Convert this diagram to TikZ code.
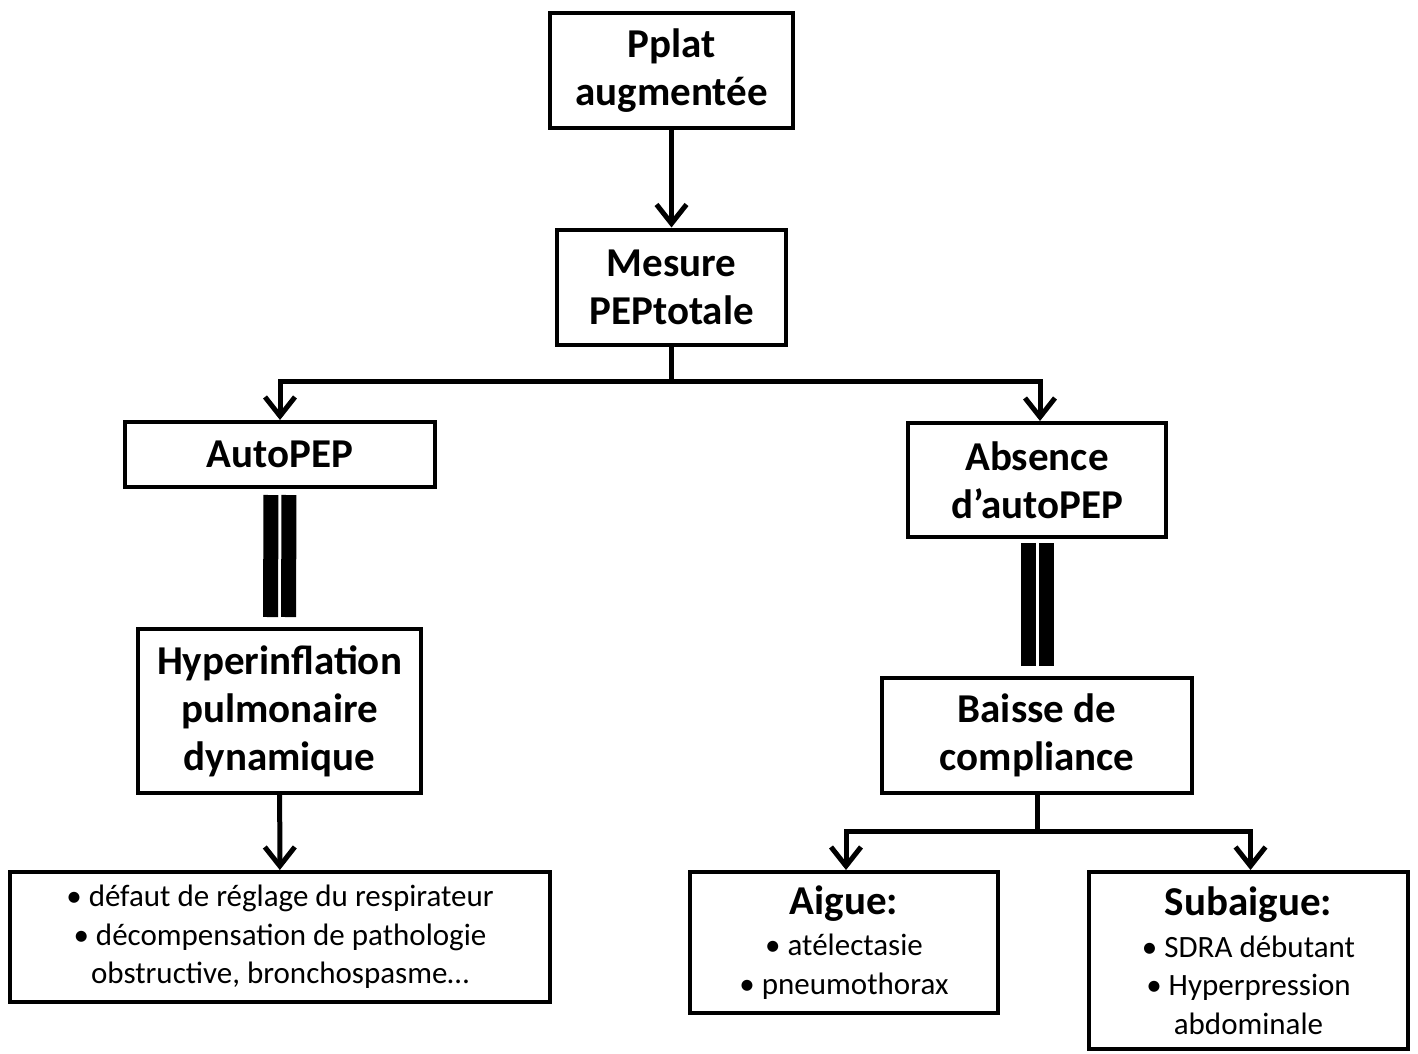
\documentclass[tikz,border=0pt]{standalone}
\usepackage{fontspec}
\setmainfont{Carlito}
\usetikzlibrary{arrows.meta}
\newcommand{\hdfont}{\fontsize{41}{48}\selectfont\bfseries}
\newcommand{\txfont}{\fontsize{31}{38.5}\selectfont}
\begin{document}
\begin{tikzpicture}[x=1pt,y=-1pt,
    box/.style={draw,line width=4pt,inner sep=0pt,align=center},
    hd/.style={box,font=\hdfont},
    tx/.style={box,font=\txfont},
    arr/.style={line width=5pt,-{Straight Barb[length=19pt,width=30pt]}},
    bar/.style={line width=15pt}]
  \useasboundingbox (0,0) rectangle (1418,1053);
  % top of the chart
  \node[hd,minimum width=243,minimum height=115] (plat) at (671.5,70.5) {Pplat\\augmentée};
  \node[hd,minimum width=229,minimum height=115] (mesure) at (671.5,287) {Mesure\\PEPtotale};
  \draw[arr] (plat) -- (mesure);
  % the two branches
  \node[hd,minimum width=310,minimum height=65] (auto) at (280,454.5) {AutoPEP};
  \node[hd,minimum width=258,minimum height=114] (absence) at (1037,480) {Absence\\d’autoPEP};
  \draw[arr] (mesure.south) -- ++(0,35) -| (auto.north);
  \draw[arr] (mesure.south) -- ++(0,35) -| ([xshift=3]absence.north);
  % left: autoPEP
  \node[hd,minimum width=283,minimum height=164] (hyper) at (279.5,711) {Hyperinflation\\pulmonaire\\dynamique};
  \draw[bar,shorten <=6,shorten >=10] ([xshift=-9]auto.south) -- ([xshift=-9]hyper.north);
  \draw[bar,shorten <=6,shorten >=10] ([xshift=9]auto.south) -- ([xshift=9]hyper.north);
  \node[tx,minimum width=540,minimum height=130] (causes) at (280,937)
    {• défaut de réglage du respirateur\\• décompensation de pathologie\\obstructive, bronchospasme…};
  \draw[arr] (hyper) -- (causes);
  % right: no autoPEP
  \node[hd,minimum width=310,minimum height=115] (baisse) at (1037,735.5) {Baisse de\\compliance};
  \draw[bar,shorten <=4,shorten >=10] ([xshift=-9]absence.south) -- ([xshift=-9]baisse.north);
  \draw[bar,shorten <=4,shorten >=10] ([xshift=9]absence.south) -- ([xshift=9]baisse.north);
  \node[tx,minimum width=308,minimum height=141] (aigue) at (844,942.5)
    {{\hdfont Aigue:}\\[3pt]• atélectasie\\• pneumothorax};
  \node[tx,minimum width=319,minimum height=177] (subaigue) at (1248.5,960.5)
    {{\hdfont Subaigue:}\\[3pt]• SDRA débutant\\• Hyperpression\\abdominale};
  \draw[arr] (baisse.south) -- ++(0,36) -| ([xshift=2]aigue.north);
  \draw[arr] (baisse.south) -- ++(0,36) -| ([xshift=2]subaigue.north);
\end{tikzpicture}
\end{document}
